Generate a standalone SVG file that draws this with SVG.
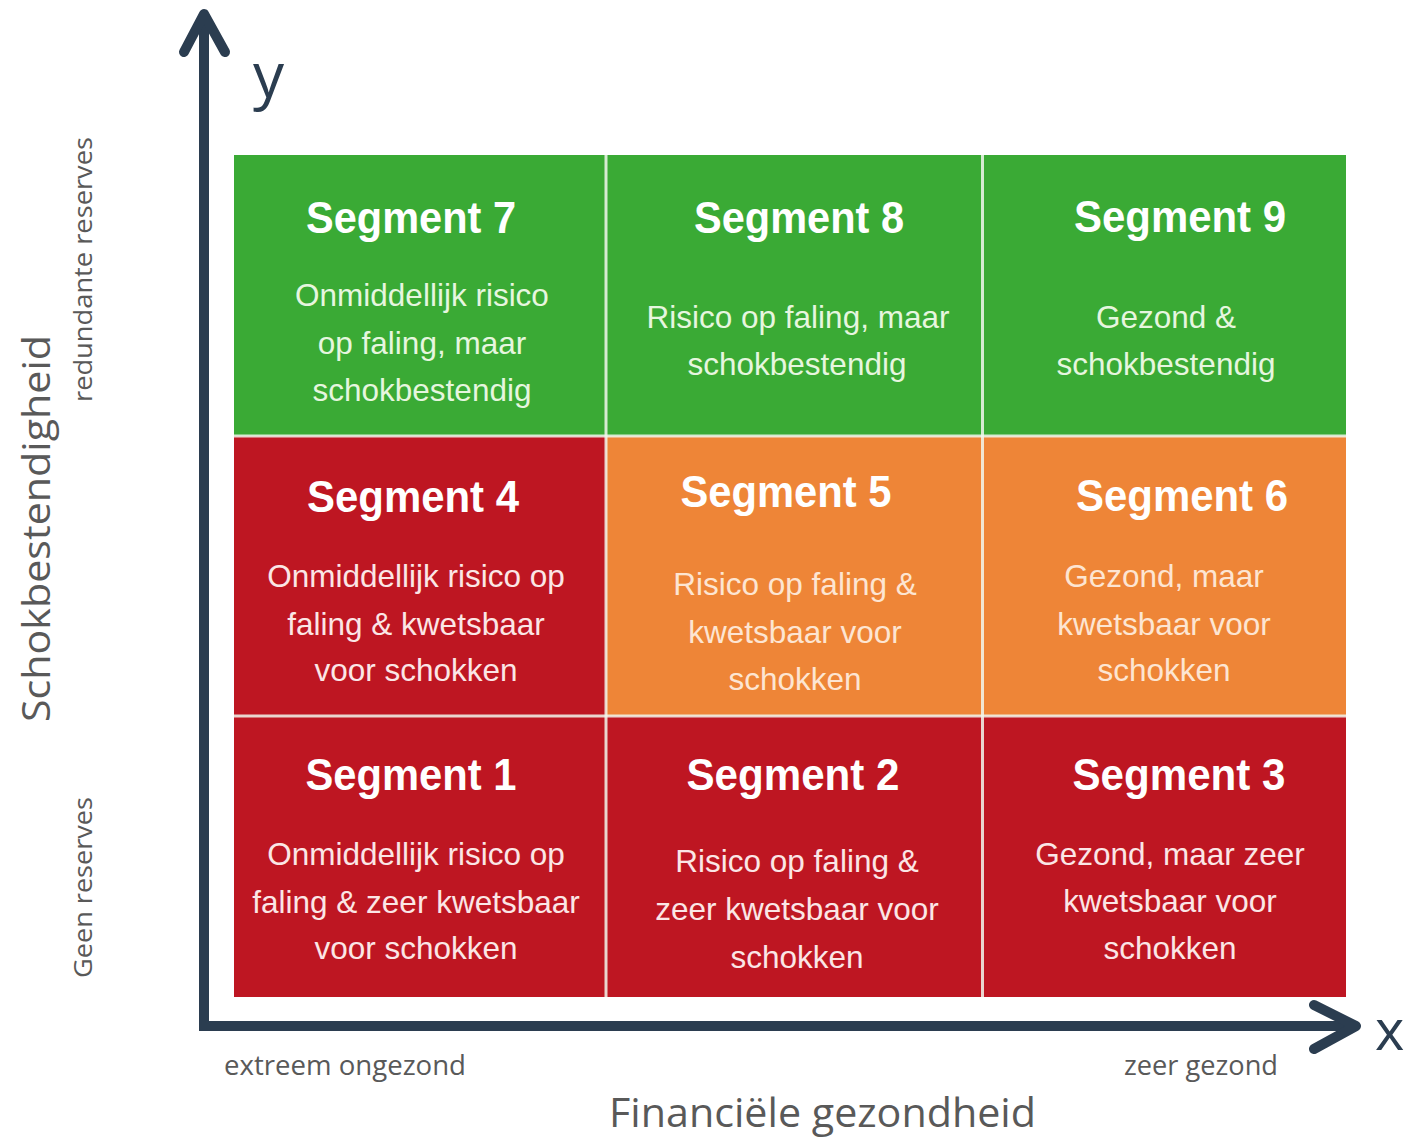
<svg xmlns="http://www.w3.org/2000/svg" width="1406" height="1137" viewBox="0 0 1406 1137">
<style>
.title{font-family:"Liberation Sans",Arial,sans-serif;font-weight:bold;font-size:44px;text-anchor:middle;fill:#ffffff}
.body{font-family:"Liberation Sans",Arial,sans-serif;font-size:31.5px;text-anchor:middle}
.g .body{fill:#e6f6df}
.o .body{fill:#fde5d2}
.r .body{fill:#fbe6e6}
.lbl{font-family:"Open Sans","Liberation Sans",sans-serif;fill:#595959}
.axis{fill:none;stroke:#2b3d50;stroke-width:10}
.sep{stroke:#f2f7ee;stroke-width:3;opacity:0.85}
</style>
<rect width="1406" height="1137" fill="#ffffff"/>

<g id="cells">
<g id="seg7" class="g">
<rect x="234" y="155" width="372" height="281" fill="#3aaa35"/>
<text class="title" x="411" y="233" textLength="210" lengthAdjust="spacingAndGlyphs">Segment 7</text>
<text class="body" x="422" y="306">Onmiddellijk risico</text>
<text class="body" x="422" y="354">op faling, maar</text>
<text class="body" x="422" y="401">schokbestendig</text>
</g>
<g id="seg8" class="g">
<rect x="606" y="155" width="377" height="281" fill="#3aaa35"/>
<text class="title" x="799" y="233" textLength="210" lengthAdjust="spacingAndGlyphs">Segment 8</text>
<text class="body" x="798" y="328">Risico op faling, maar</text>
<text class="body" x="797" y="375">schokbestendig</text>
</g>
<g id="seg9" class="g">
<rect x="983" y="155" width="363" height="281" fill="#3aaa35"/>
<text class="title" x="1180" y="232" textLength="212" lengthAdjust="spacingAndGlyphs">Segment 9</text>
<text class="body" x="1166" y="328">Gezond &amp;</text>
<text class="body" x="1166" y="375">schokbestendig</text>
</g>
<g id="seg4" class="r">
<rect x="234" y="436" width="372" height="280" fill="#be1622"/>
<text class="title" x="413" y="512" textLength="212" lengthAdjust="spacingAndGlyphs">Segment 4</text>
<text class="body" x="416" y="587">Onmiddellijk risico op</text>
<text class="body" x="416" y="635">faling &amp; kwetsbaar</text>
<text class="body" x="416" y="681">voor schokken</text>
</g>
<g id="seg5" class="o">
<rect x="606" y="436" width="377" height="280" fill="#ee8537"/>
<text class="title" x="786" y="507" textLength="211" lengthAdjust="spacingAndGlyphs">Segment 5</text>
<text class="body" x="795" y="595">Risico op faling &amp;</text>
<text class="body" x="795" y="643">kwetsbaar voor</text>
<text class="body" x="795" y="690">schokken</text>
</g>
<g id="seg6" class="o">
<rect x="983" y="436" width="363" height="280" fill="#ee8537"/>
<text class="title" x="1182" y="511" textLength="212" lengthAdjust="spacingAndGlyphs">Segment 6</text>
<text class="body" x="1164" y="587">Gezond, maar</text>
<text class="body" x="1164" y="635">kwetsbaar voor</text>
<text class="body" x="1164" y="681">schokken</text>
</g>
<g id="seg1" class="r">
<rect x="234" y="716" width="372" height="281" fill="#be1622"/>
<text class="title" x="411" y="790" textLength="211" lengthAdjust="spacingAndGlyphs">Segment 1</text>
<text class="body" x="416" y="865">Onmiddellijk risico op</text>
<text class="body" x="416" y="913">faling &amp; zeer kwetsbaar</text>
<text class="body" x="416" y="959">voor schokken</text>
</g>
<g id="seg2" class="r">
<rect x="606" y="716" width="377" height="281" fill="#be1622"/>
<text class="title" x="793" y="790" textLength="213" lengthAdjust="spacingAndGlyphs">Segment 2</text>
<text class="body" x="797" y="872">Risico op faling &amp;</text>
<text class="body" x="797" y="920">zeer kwetsbaar voor</text>
<text class="body" x="797" y="968">schokken</text>
</g>
<g id="seg3" class="r">
<rect x="983" y="716" width="363" height="281" fill="#be1622"/>
<text class="title" x="1179" y="790" textLength="213" lengthAdjust="spacingAndGlyphs">Segment 3</text>
<text class="body" x="1170" y="865">Gezond, maar zeer</text>
<text class="body" x="1170" y="912">kwetsbaar voor</text>
<text class="body" x="1170" y="959">schokken</text>
</g>
<g id="separators">
<line class="sep" x1="606" y1="155" x2="606" y2="997"/>
<line class="sep" x1="982.5" y1="155" x2="982.5" y2="997"/>
<line class="sep" x1="234" y1="436" x2="1346" y2="436"/>
<line class="sep" x1="234" y1="716" x2="1346" y2="716"/>
</g>
</g>

<g id="connectors">
<path class="axis" d="M204 16 V1026 H1356" stroke-linejoin="miter"/>
<polyline class="axis" points="184,52 204,14 225,52" stroke-linecap="round" stroke-linejoin="round"/>
<polyline class="axis" points="1314,1005 1356,1026 1314,1049" stroke-linecap="round" stroke-linejoin="round"/>
</g>

<g id="labels">
<text id="ylabel" x="253" y="97" font-family="'Open Sans','Liberation Sans',sans-serif" font-size="62" fill="#2b3d50">y</text>
<text id="xlabel" x="1375" y="1050" font-family="'Open Sans','Liberation Sans',sans-serif" font-size="56" fill="#2b3d50">x</text>
<text class="lbl" x="0" y="0" font-size="38" text-anchor="middle" textLength="387" lengthAdjust="spacingAndGlyphs" transform="translate(50,528.5) rotate(-90)">Schokbestendigheid</text>
<text class="lbl" x="0" y="0" font-size="26" text-anchor="middle" textLength="265" lengthAdjust="spacingAndGlyphs" transform="translate(92,269.5) rotate(-90)">redundante reserves</text>
<text class="lbl" x="0" y="0" font-size="26" text-anchor="middle" textLength="181" lengthAdjust="spacingAndGlyphs" transform="translate(92,887.5) rotate(-90)">Geen reserves</text>
<text class="lbl" x="224" y="1075" font-size="27" textLength="242" lengthAdjust="spacingAndGlyphs">extreem ongezond</text>
<text class="lbl" x="1124" y="1075" font-size="27" textLength="154" lengthAdjust="spacingAndGlyphs">zeer gezond</text>
<text class="lbl" x="609" y="1127" font-size="41" textLength="427" lengthAdjust="spacingAndGlyphs">Financiële gezondheid</text>
</g>
</svg>
